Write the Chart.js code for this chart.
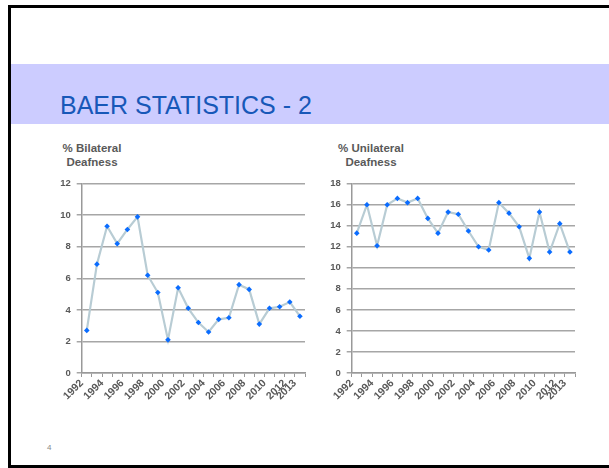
<!DOCTYPE html>
<html>
<head>
<meta charset="utf-8">
<script src="https://cdn.jsdelivr.net/npm/chart.js@4/dist/chart.umd.min.js"></script>
<style>
  html, body { margin: 0; padding: 0; background: #fff; }
  body { width: 609px; height: 468px; position: relative; overflow: hidden; font-family: "Liberation Sans", Arial, sans-serif; }
  .frame { position: absolute; left: 8px; top: 5px; width: 700px; height: 463px; border: 3px solid #000; box-sizing: border-box; }
  .band { position: absolute; left: 11px; top: 64px; width: 700px; height: 60px; background: #ccccff; }
  .title { position: absolute; left: 60px; top: 92.5px; font-size: 25px; line-height: 25px; color: #1758b8; white-space: nowrap; }
  .ctitle { position: absolute; width: 100px; text-align: center; font-weight: bold; font-size: 11.5px; line-height: 14.3px; color: #595959; top: 140.6px; }
  .chartbox { position: absolute; top: 172px; width: 272px; height: 236px; }
  .pnum { position: absolute; left: 47px; top: 443px; font-size: 8px; color: #888; }
</style>
</head>
<body>
<div class="frame"></div>
<div class="band"></div>
<div class="title">BAER STATISTICS - 2</div>
<div class="ctitle" style="left:42px">% Bilateral<br>Deafness</div>
<div class="ctitle" style="left:321px">% Unilateral<br>Deafness</div>
<div class="chartbox" style="left:40px"><canvas id="bilateral"></canvas></div>
<div class="chartbox" style="left:310px"><canvas id="unilateral"></canvas></div>
<div class="pnum">4</div>
<script>
const years = ['1992','1993','1994','1995','1996','1997','1998','1999','2000','2001','2002',
               '2003','2004','2005','2006','2007','2008','2009','2010','2011','2012','2013'];
const bilateral = [2.7, 6.9, 9.3, 8.2, 9.1, 9.9, 6.2, 5.1, 2.1, 5.4, 4.1,
                   3.2, 2.6, 3.4, 3.5, 5.6, 5.3, 3.1, 4.1, 4.2, 4.5, 3.6];
const unilateral = [13.3, 16.0, 12.1, 16.0, 16.6, 16.2, 16.6, 14.7, 13.3, 15.3, 15.1,
                    13.5, 12.0, 11.7, 16.2, 15.2, 13.9, 10.9, 15.3, 11.5, 14.2, 11.5];

const fam = '"Liberation Sans", Arial, sans-serif';

function makeChart(id, values, yMax) {
    return new Chart(document.getElementById(id), {
        type: 'line',
        data: {
            labels: years,
            datasets: [{
                data: values,
                borderColor: '#b8ccd4',
                borderWidth: 2.2,
                tension: 0,
                pointStyle: 'rectRot',
                pointRadius: 2.8,
                pointBackgroundColor: '#0a6cff',
                pointBorderColor: '#0a6cff',
                pointBorderWidth: 0
            }]
        },
        options: {
            responsive: true,
            maintainAspectRatio: false,
            animation: false,
            layout: { padding: { top: 10.7, right: 7, bottom: 0, left: 0 } },
            plugins: { legend: { display: false }, tooltip: { enabled: false } },
            scales: {
                x: {
                    offset: true,
                    grid: { offset: true, drawOnChartArea: false, tickLength: 4, color: '#999', lineWidth: 1 },
                    border: { color: '#999', width: 1.5 },
                    ticks: {
                        autoSkip: false, minRotation: 45, maxRotation: 45, padding: 0,
                        labelOffset: -5, color: '#595959', font: { family: fam, size: 10.5, weight: 'bold' },
                        callback: (v, i) => (i % 2 === 0 || i === years.length - 1) ? years[i] : ''
                    },
                    afterFit: s => { s.height = 35; }
                },
                y: {
                    min: 0, max: yMax,
                    grid: { color: '#a6a6a6', lineWidth: 1.5, tickLength: 5 },
                    border: { color: '#999', width: 1.5 },
                    ticks: { stepSize: 2, padding: 6, color: '#595959', font: { family: fam, size: 9.5, weight: 'bold' } },
                    afterFit: s => { s.width = 41.7; }
                }
            }
        }
    });
}

makeChart('bilateral', bilateral, 12);
makeChart('unilateral', unilateral, 18);
</script>
</body>
</html>
